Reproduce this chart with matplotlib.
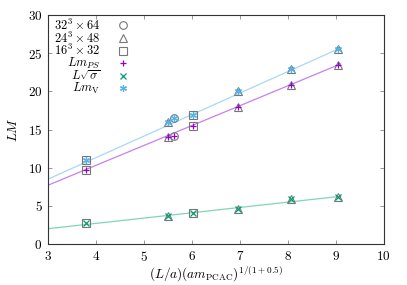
import matplotlib
matplotlib.use("Agg")
import matplotlib.pyplot as plt
import numpy as np

plt.rcParams["font.family"] = "serif"
plt.rcParams["font.serif"] = ["cmr10", "DejaVu Serif"]
plt.rcParams["mathtext.fontset"] = "cm"
plt.rcParams["axes.formatter.use_mathtext"] = True

# x positions for each lattice
x_32 = [5.63]
x_24 = [5.50, 6.97, 8.06, 9.04]
x_16 = [3.80, 6.02]

# LM values per lattice
ps_32 = [14.1]
ps_24 = [14.0, 17.9, 20.8, 23.4]
ps_16 = [9.7, 15.5]

v_32 = [16.5]
v_24 = [16.0, 20.1, 23.0, 25.5]
v_16 = [11.0, 16.9]

sig_24 = [3.7, 4.6, 5.9, 6.2]
sig_16 = [2.8, 4.0]

# fit lines (end points)
fit_x = [3.0, 9.1]
fit_ps = [7.7, 23.6]
fit_v = [8.5, 25.7]
fit_sig = [2.0, 6.25]

c_ps = "#9400d3"
c_sig = "#009e73"
c_v = "#56b4e9"
c_frame = "#777777"

fig = plt.figure(figsize=(4.07, 2.85), dpi=100)
ax = fig.add_axes([0.118, 0.144, 0.825, 0.803])

ax.plot(fit_x, fit_ps, color="#c77ff0", lw=0.9)
ax.plot(fit_x, fit_v, color="#a8d8f5", lw=0.9)
ax.plot(fit_x, fit_sig, color="#7fd6b8", lw=0.9)

ms = 5.5
frame = dict(ls="none", mfc="none", mec=c_frame, mew=0.8, ms=ms)
for xs, ys in [(x_32, ps_32), (x_32, v_32)]:
    ax.plot(xs, ys, marker="o", **frame)
for xs, ys in [(x_24, ps_24), (x_24, v_24), (x_24, sig_24)]:
    ax.plot(xs, ys, marker="^", **frame)
for xs, ys in [(x_16, ps_16), (x_16, v_16), (x_16, sig_16)]:
    ax.plot(xs, ys, marker="s", **frame)

ax.plot(x_32 + x_24 + x_16, ps_32 + ps_24 + ps_16, ls="none", marker="+", color=c_ps, ms=5, mew=0.9)
ax.plot(x_24 + x_16, sig_24 + sig_16, ls="none", marker="x", color=c_sig, ms=4, mew=0.9)
ax.plot(x_32 + x_24 + x_16, v_32 + v_24 + v_16, ls="none", marker=(6, 2, 0), color=c_v, ms=5, mew=0.9)

ax.set_xlim(3, 10)
ax.set_ylim(0, 30)
ax.set_xticks(range(3, 11))
ax.set_yticks(range(0, 31, 5))
ax.tick_params(direction="in", top=True, right=True, labelsize=9.5, length=3, width=0.6,
               color="#888888", pad=4)
for s in ax.spines.values():
    s.set_color("#333333")
    s.set_linewidth(0.8)

ax.set_xlabel(r"$(L/a)(am_{\rm PCAC})^{1/(1+0.5)}$", fontsize=9.5, labelpad=1)
ax.set_ylabel(r"$LM$", fontsize=9.5, labelpad=6)

# key, gnuplot style: right-aligned text, symbol to the right
labels = [r"$32^3\times 64$", r"$24^3\times 48$", r"$16^3\times 32$",
          r"$Lm_{PS}$", r"$L\sqrt{\sigma}$", r"$Lm_{\rm V}$"]
styles = [dict(marker="o", mfc="none", mec=c_frame, mew=0.8, ms=ms),
          dict(marker="^", mfc="none", mec=c_frame, mew=0.8, ms=ms),
          dict(marker="s", mfc="none", mec=c_frame, mew=0.8, ms=ms),
          dict(marker="+", color=c_ps, ms=5, mew=0.9),
          dict(marker="x", color=c_sig, ms=4, mew=0.9),
          dict(marker=(6, 2, 0), color=c_v, ms=5, mew=0.9)]
for i, (lab, st) in enumerate(zip(labels, styles)):
    yy = 0.955 - i * 0.055
    ax.text(0.155, yy, lab, transform=ax.transAxes, ha="right", va="center", fontsize=9)
    ax.plot([0.223], [yy], transform=ax.transAxes, ls="none", clip_on=False, **st)

fig.savefig("out.png", dpi=100)
